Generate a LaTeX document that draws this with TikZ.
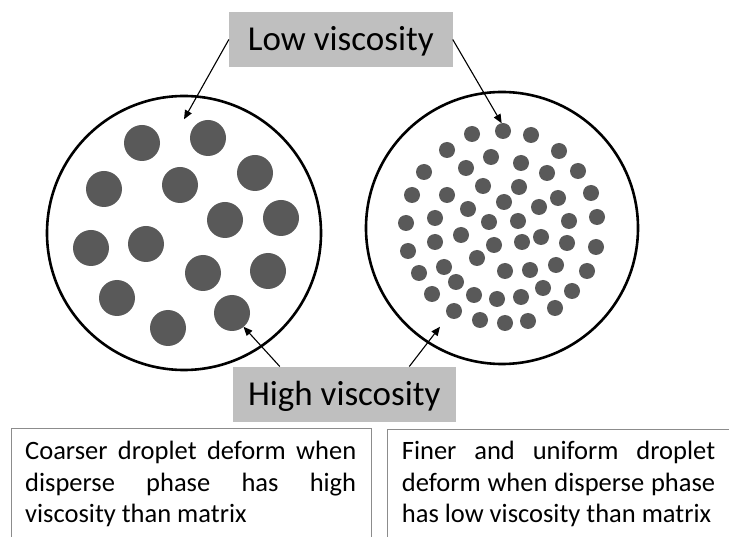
\documentclass[tikz,border=0pt]{standalone}
\usepackage{fontspec}
\setmainfont{Carlito}
\usetikzlibrary{arrows.meta}
\definecolor{dropgray}{HTML}{595959}
\definecolor{tagfill}{HTML}{BFBFBF}
\definecolor{framegray}{HTML}{8C8C8C}
\tolerance=9999
\hyphenpenalty=10000
\tikzset{
  phase/.style={line width=2.6pt},                  % matrix boundary
  coarse/.style={fill=dropgray},                    % big droplet
  fine/.style={fill=dropgray},                      % small droplet
  tag/.style={fill=tagfill,minimum width=223.5pt,minimum height=55pt,inner sep=0pt,
    font=\fontsize{35}{42}\selectfont,text height=22.7pt,text depth=0pt},
  ptr/.style={-{Triangle[length=9pt,width=7.5pt]},line width=1.1pt},
  frame/.style={draw=framegray,line width=1pt},
  note/.style={anchor=base west,inner sep=0pt,align=justify,
    font=\fontsize{26.5}{31.5}\selectfont},
}

\begin{document}
\begin{tikzpicture}[x=1pt,y=-1pt]
  \useasboundingbox (0,0) rectangle (729,537);
  \clip (0,0) rectangle (729,537);
  % the two blends
  \draw[phase] (184,233) circle (137pt);
  \draw[phase] (502,228) circle (136pt);
  \foreach \x/\y in {142/143,208/138,255/173,104/189,180/185,225/220,281/218,
      91/248,146/244,203/273,268/271,117/298,168/328,232/313}
    \fill[coarse] (\x,\y) circle (18pt);
  \foreach \x/\y in {472/134,503/131,531/135,
      447/150,491/157,521/163,559/151,
      424/172,466/168,547/173,578/171,
      412/195,483/186,519/187,558/198,591/193,
      447/195,468/209,504/202,539/207,
      406/223,435/218,489/222,518/221,569/221,597/217,
      435/242,461/235,494/245,522/242,541/237,567/243,596/247,
      408/251,477/258,444/267,505/271,530/270,556/265,587/271,
      419/273,456/282,474/295,497/299,521/297,543/288,572/291,
      432/294,454/311,480/320,505/323,528/321,555/308}
    \fill[fine] (\x,\y) circle (8pt);
  % labels and pointers
  \node[tag] (low) at (340.8,39.5) {Low viscosity};
  \node[tag] (high) at (344.3,394.2) {High viscosity};
  \coordinate (lowL) at (184,119.3);
  \coordinate (lowR) at (501.7,123.3);
  \coordinate (highL) at (243.5,326.7);
  \coordinate (highR) at (440,326.7);
  \draw[ptr] (low.west) -- (lowL);
  \draw[ptr] (low.east) -- (lowR);
  \draw[ptr] ([xshift=-64.5pt]high.north) -- (highL);
  \draw[ptr] ([xshift=65pt]high.north) -- (highR);
  % notes below
  \draw[frame] (11,428.3) rectangle (371,560);
  \draw[frame] (387.3,430) rectangle (740,560);
  \node[note,text width=331pt] (coarsenote) at (25,460)
    {Coarser droplet deform when disperse phase has high viscosity than matrix};
  \node[note,text width=313.3pt] (finenote) at (401.7,460)
    {Finer and uniform droplet deform when disperse phase has low viscosity than matrix};
\end{tikzpicture}
\end{document}
